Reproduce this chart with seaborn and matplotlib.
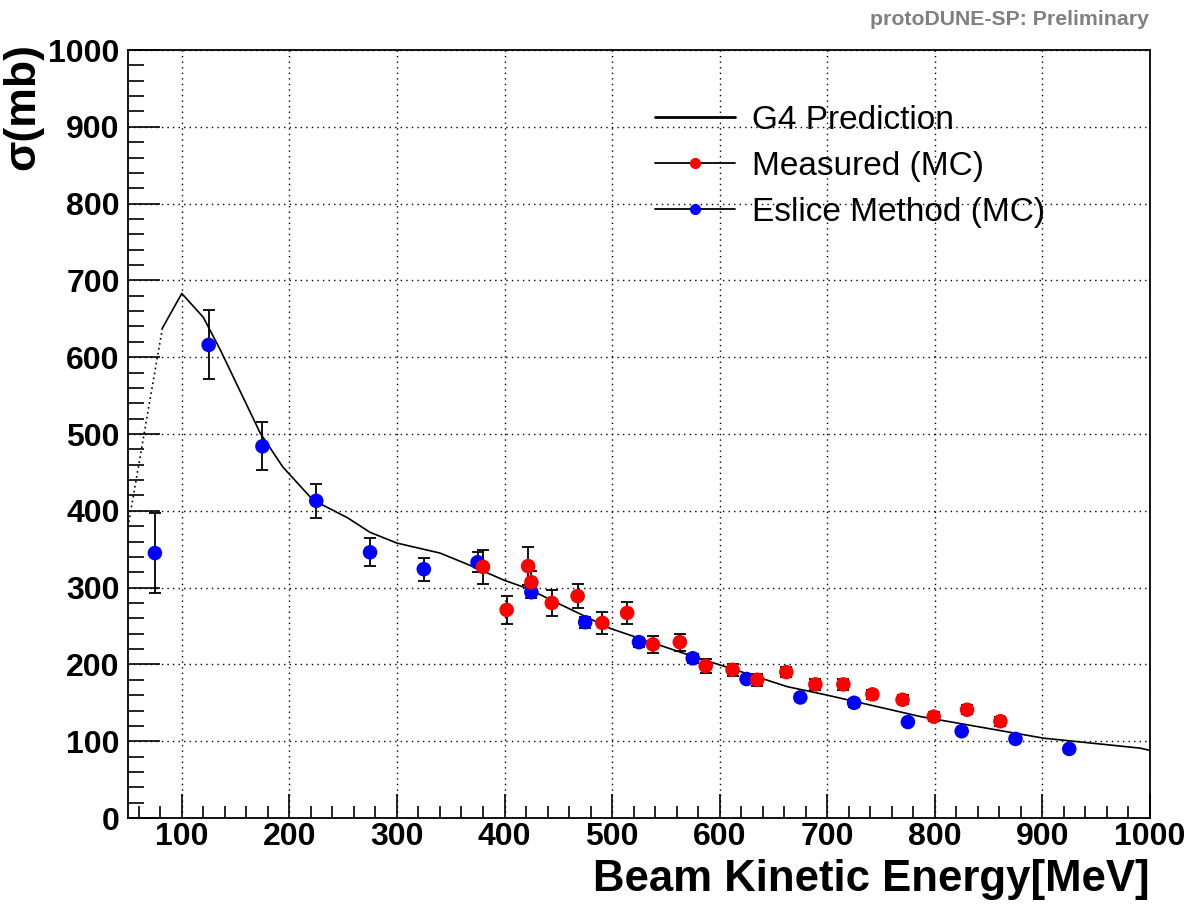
import numpy as np
import pandas as pd
import matplotlib
matplotlib.use("Agg")
import matplotlib.pyplot as plt
from matplotlib.lines import Line2D
from matplotlib.ticker import MultipleLocator
import seaborn as sns

# G4 prediction curve
g4_energy = [50, 82, 100, 120, 136, 173, 194, 222, 254, 275, 300, 340, 368,
             399, 421, 498, 576, 601, 663, 700, 787, 901, 991, 1000]
g4_xsec = [379, 638, 683, 652, 609, 501, 457, 414, 391, 372, 358, 345, 329,
           310, 299, 247, 210, 199, 171, 160, 132, 104, 91, 88]

# Measured (MC)
meas_energy = [380, 402, 422, 425, 444, 468, 491, 514, 538, 563, 587, 612, 635,
               662, 689, 715, 742, 770, 799, 830, 861]
meas_xsec = [327, 271, 328, 307, 280, 289, 254, 267, 226, 229, 198, 193, 180,
             190, 174, 174, 161, 154, 132, 141, 126]
meas_err = [22, 18, 25, 14, 17, 16, 14, 14, 11, 11, 9, 8, 8,
            7, 7, 7, 6, 6, 6, 6, 6]

# Eslice method (MC)
eslice_energy = [75, 125, 175, 225, 275, 325, 375, 425, 475, 525, 575, 625,
                 675, 725, 775, 825, 875, 925]
eslice_xsec = [345, 616, 484, 413, 346, 324, 333, 294, 255, 229, 208, 181,
               157, 150, 125, 113, 103, 90]
eslice_err = [52, 45, 31, 22, 18, 15, 13, 8, 7, 6, 6, 5, 5, 5, 4, 4, 4, 4]

sns.set_style("white")
plt.rcParams['font.family'] = ['Liberation Sans', 'DejaVu Sans']
plt.rcParams.update({'text.color': 'black', 'axes.labelcolor': 'black',
                     'xtick.color': 'black', 'ytick.color': 'black'})

fig = plt.figure(figsize=(11.94, 9.06), dpi=100)
ax = fig.add_axes([0.1072, 0.0971, 0.8559, 0.8477])

g4 = pd.DataFrame({'E': g4_energy, 'xs': g4_xsec})
meas = pd.DataFrame({'E': meas_energy, 'xs': meas_xsec, 'err': meas_err})
esl = pd.DataFrame({'E': eslice_energy, 'xs': eslice_xsec, 'err': eslice_err})

# steep rising part looks dotted in the original
sns.lineplot(data=g4.iloc[:2], x='E', y='xs', ax=ax, color='black', lw=1.2,
             linestyle=(0, (1, 2)), sort=False, estimator=None, zorder=3)
sns.lineplot(data=g4.iloc[1:], x='E', y='xs', ax=ax, color='black', lw=1.2,
             sort=False, estimator=None, zorder=3)

ax.errorbar(esl['E'], esl['xs'], yerr=esl['err'], fmt='none', ecolor='black',
            elinewidth=1.3, capsize=4, capthick=1.3, zorder=4)
ax.errorbar(meas['E'], meas['xs'], yerr=meas['err'], fmt='none', ecolor='black',
            elinewidth=1.3, capsize=4, capthick=1.3, zorder=4)
sns.scatterplot(data=esl, x='E', y='xs', ax=ax, color='#0000ff', s=110,
                edgecolor='none', zorder=5)
sns.scatterplot(data=meas, x='E', y='xs', ax=ax, color='#ff0000', s=110,
                edgecolor='none', zorder=6)

ax.set_xlim(50, 1000)
ax.set_ylim(0, 1000)
ax.xaxis.set_major_locator(MultipleLocator(100))
ax.xaxis.set_minor_locator(MultipleLocator(20))
ax.yaxis.set_major_locator(MultipleLocator(100))
ax.yaxis.set_minor_locator(MultipleLocator(20))
ax.grid(True, which='major', color='black', linestyle=(0, (1, 3)), lw=1.0)
ax.tick_params(axis='x', which='major', direction='in', length=17, width=1.2,
               labelsize=23, pad=3, bottom=True, top=False)
ax.tick_params(axis='x', which='minor', direction='in', length=9, width=1.2,
               bottom=True, top=False)
ax.tick_params(axis='y', which='major', direction='in', length=23, width=1.2,
               labelsize=23, pad=6, left=True, right=False)
ax.tick_params(axis='y', which='minor', direction='in', length=11.5, width=1.2,
               left=True, right=False)
for lab in ax.get_xticklabels() + ax.get_yticklabels():
    lab.set_fontweight('bold')
for sp in ax.spines.values():
    sp.set_color('black')
    sp.set_linewidth(1.3)

ax.set_xlabel('Beam Kinetic Energy[MeV]', fontsize=31.5, fontweight='bold',
              loc='right', labelpad=5)
ax.set_ylabel('')
fig.text(23 / 1194, 1 - 43 / 906, 'σ(mb)', rotation=90, ha='center', va='top',
         fontsize=32, fontweight='bold')

fig.text(0.962, 0.979, 'protoDUNE-SP: Preliminary', ha='right', va='center',
         fontsize=15.3, fontweight='bold', color='#808080')

handles = [
    Line2D([], [], color='black', lw=2),
    Line2D([], [], color='black', lw=1.3, marker='o', markersize=7,
           markerfacecolor='#ff0000', markeredgecolor='#ff0000'),
    Line2D([], [], color='black', lw=1.3, marker='o', markersize=7,
           markerfacecolor='#0000ff', markeredgecolor='#0000ff'),
]
ax.legend(handles, ['G4 Prediction', 'Measured (MC)', 'Eslice Method (MC)'],
          loc='upper left', bbox_to_anchor=(0.503, 0.946), frameon=False,
          fontsize=24, handlelength=2.4, handletextpad=0.5, labelspacing=0.45,
          borderaxespad=0)

fig.savefig('out.png', dpi=100)
